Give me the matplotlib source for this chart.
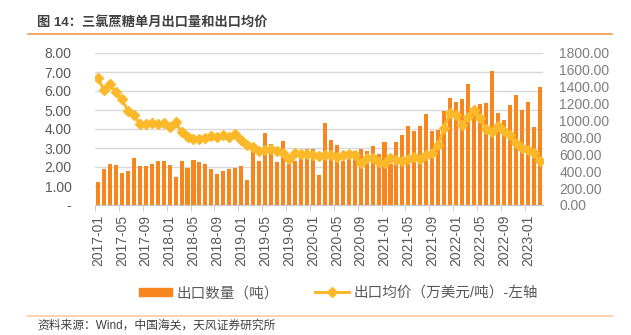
import matplotlib
matplotlib.use('Agg')
import matplotlib.pyplot as plt
import numpy as np
import pandas as pd
from matplotlib.lines import Line2D
from matplotlib.patches import Patch

plt.rcParams['font.family'] = ['Liberation Sans', 'Noto Sans CJK SC']

# 2017-01 .. 2023-03
months = pd.date_range('2017-01', periods=75, freq='MS').strftime('%Y-%m').tolist()

# 出口数量（千吨 on left axis）
qty = [1.21, 1.89, 2.18, 2.13, 1.71, 1.80, 2.45, 2.04, 2.05, 2.14,
       2.34, 2.32, 2.11, 1.50, 2.29, 1.95, 2.39, 2.25, 2.18, 1.91,
       1.64, 1.80, 1.91, 1.96, 2.05, 1.32, 2.82, 2.32, 3.80, 3.20,
       2.27, 3.39, 2.16, 2.30, 2.52, 2.95, 2.95, 1.56, 4.33, 3.42,
       3.15, 2.30, 2.43, 2.86, 2.96, 2.86, 3.09, 2.70, 3.33, 2.15,
       3.32, 3.71, 4.14, 3.88, 4.16, 4.79, 3.89, 3.94, 4.95, 5.64,
       5.42, 5.58, 6.37, 4.79, 5.31, 5.38, 7.05, 4.84, 4.46, 5.27,
       5.80, 4.98, 5.43, 4.10, 6.21]

# 出口均价 (right axis)
price = [1500, 1362, 1429, 1334, 1253, 1113, 1066, 957, 960, 972,
         965, 975, 925, 978, 860, 809, 778, 781, 797, 817,
         809, 830, 800, 845, 770, 705, 685, 645, 650, 660,
         640, 610, 540, 615, 605, 605, 592, 575, 592, 592,
         572, 592, 600, 592, 500, 560, 552, 505, 493, 560,
         533, 521, 540, 570, 545, 590, 618, 710, 912, 1095,
         1070, 950, 1040, 1120, 1030, 900, 864, 933, 882, 829,
         730, 680, 650, 618, 521]

left_ticks = list(range(0, 9))
right_ticks = list(range(0, 2000, 200))

bar_color = '#F7861E'
line_color = '#FBB829'
txt = '#595959'

fig = plt.figure(figsize=(6.31, 3.35), dpi=100)
ax = fig.add_axes([95 / 631, 130 / 335, 447.7 / 631, 152 / 335])

x = np.arange(len(months))
ax.bar(x, qty, width=0.68, color=bar_color, zorder=2)
ax.set_xlim(-0.5, len(months) - 0.5)
ax.set_ylim(0, 8)
ax.set_yticks(left_ticks)
ax.set_yticklabels(['-'] + [f'{v:.2f}' for v in left_ticks[1:]])
ax.grid(axis='y', color='#d9d9d9', lw=1, zorder=0)
for s in ['top', 'right', 'left']:
    ax.spines[s].set_visible(False)
ax.spines['bottom'].set_color('#c8c8c8')

lab_idx = list(range(0, len(months), 4))
ax.set_xticks(lab_idx)
ax.set_xticklabels([months[i] for i in lab_idx], rotation=90)
ax.set_xticks([i - 0.5 for i in lab_idx], minor=True)
ax.tick_params(axis='x', which='major', length=0, pad=7, labelsize=10, labelcolor=txt)
ax.tick_params(axis='x', which='minor', length=4, color='#c8c8c8')
ax.tick_params(axis='y', length=0, pad=17, labelsize=10, labelcolor=txt)

ax2 = ax.twinx()
ax2.plot(x, price, color=line_color, lw=2.2, marker='D', ms=5.5, zorder=3)
ax2.set_ylim(0, 1800)
ax2.set_yticks(right_ticks)
ax2.set_yticklabels([f'{v:.2f}' for v in right_ticks])
ax2.tick_params(axis='y', length=0, pad=12, labelsize=10, labelcolor='#7f7f7f')
for s in ax2.spines.values():
    s.set_visible(False)

handles = [Patch(color=bar_color),
           Line2D([], [], color=line_color, lw=2.2, marker='D', ms=5.5)]
labels = ['出口数量（吨）', '出口均价（万美元/吨）-左轴']
fig.legend(handles, labels, loc='center', bbox_to_anchor=(0.536, 0.125), ncol=2,
           frameon=False, fontsize=10.5, handlelength=2.3, handleheight=0.5,
           columnspacing=2.5, handletextpad=0.3, labelcolor=txt)

fig.text(37 / 631, 1 - 22 / 335, '图 14：三氯蔗糖单月出口量和出口均价',
         fontsize=9.5, fontweight='bold', color='#404040', va='center')
fig.add_artist(Line2D([28 / 631, 612 / 631], [1 - 34 / 335] * 2, color='#EE9A4D', lw=1.2))
fig.add_artist(Line2D([28 / 631, 612 / 631], [1 - 316 / 335] * 2, color='#FBCB9C', lw=1.2))
fig.text(37 / 631, 1 - 326 / 335, '资料来源：Wind，中国海关，天风证券研究所',
         fontsize=8.5, color='#404040', va='center')

fig.savefig('out.png', dpi=100)
